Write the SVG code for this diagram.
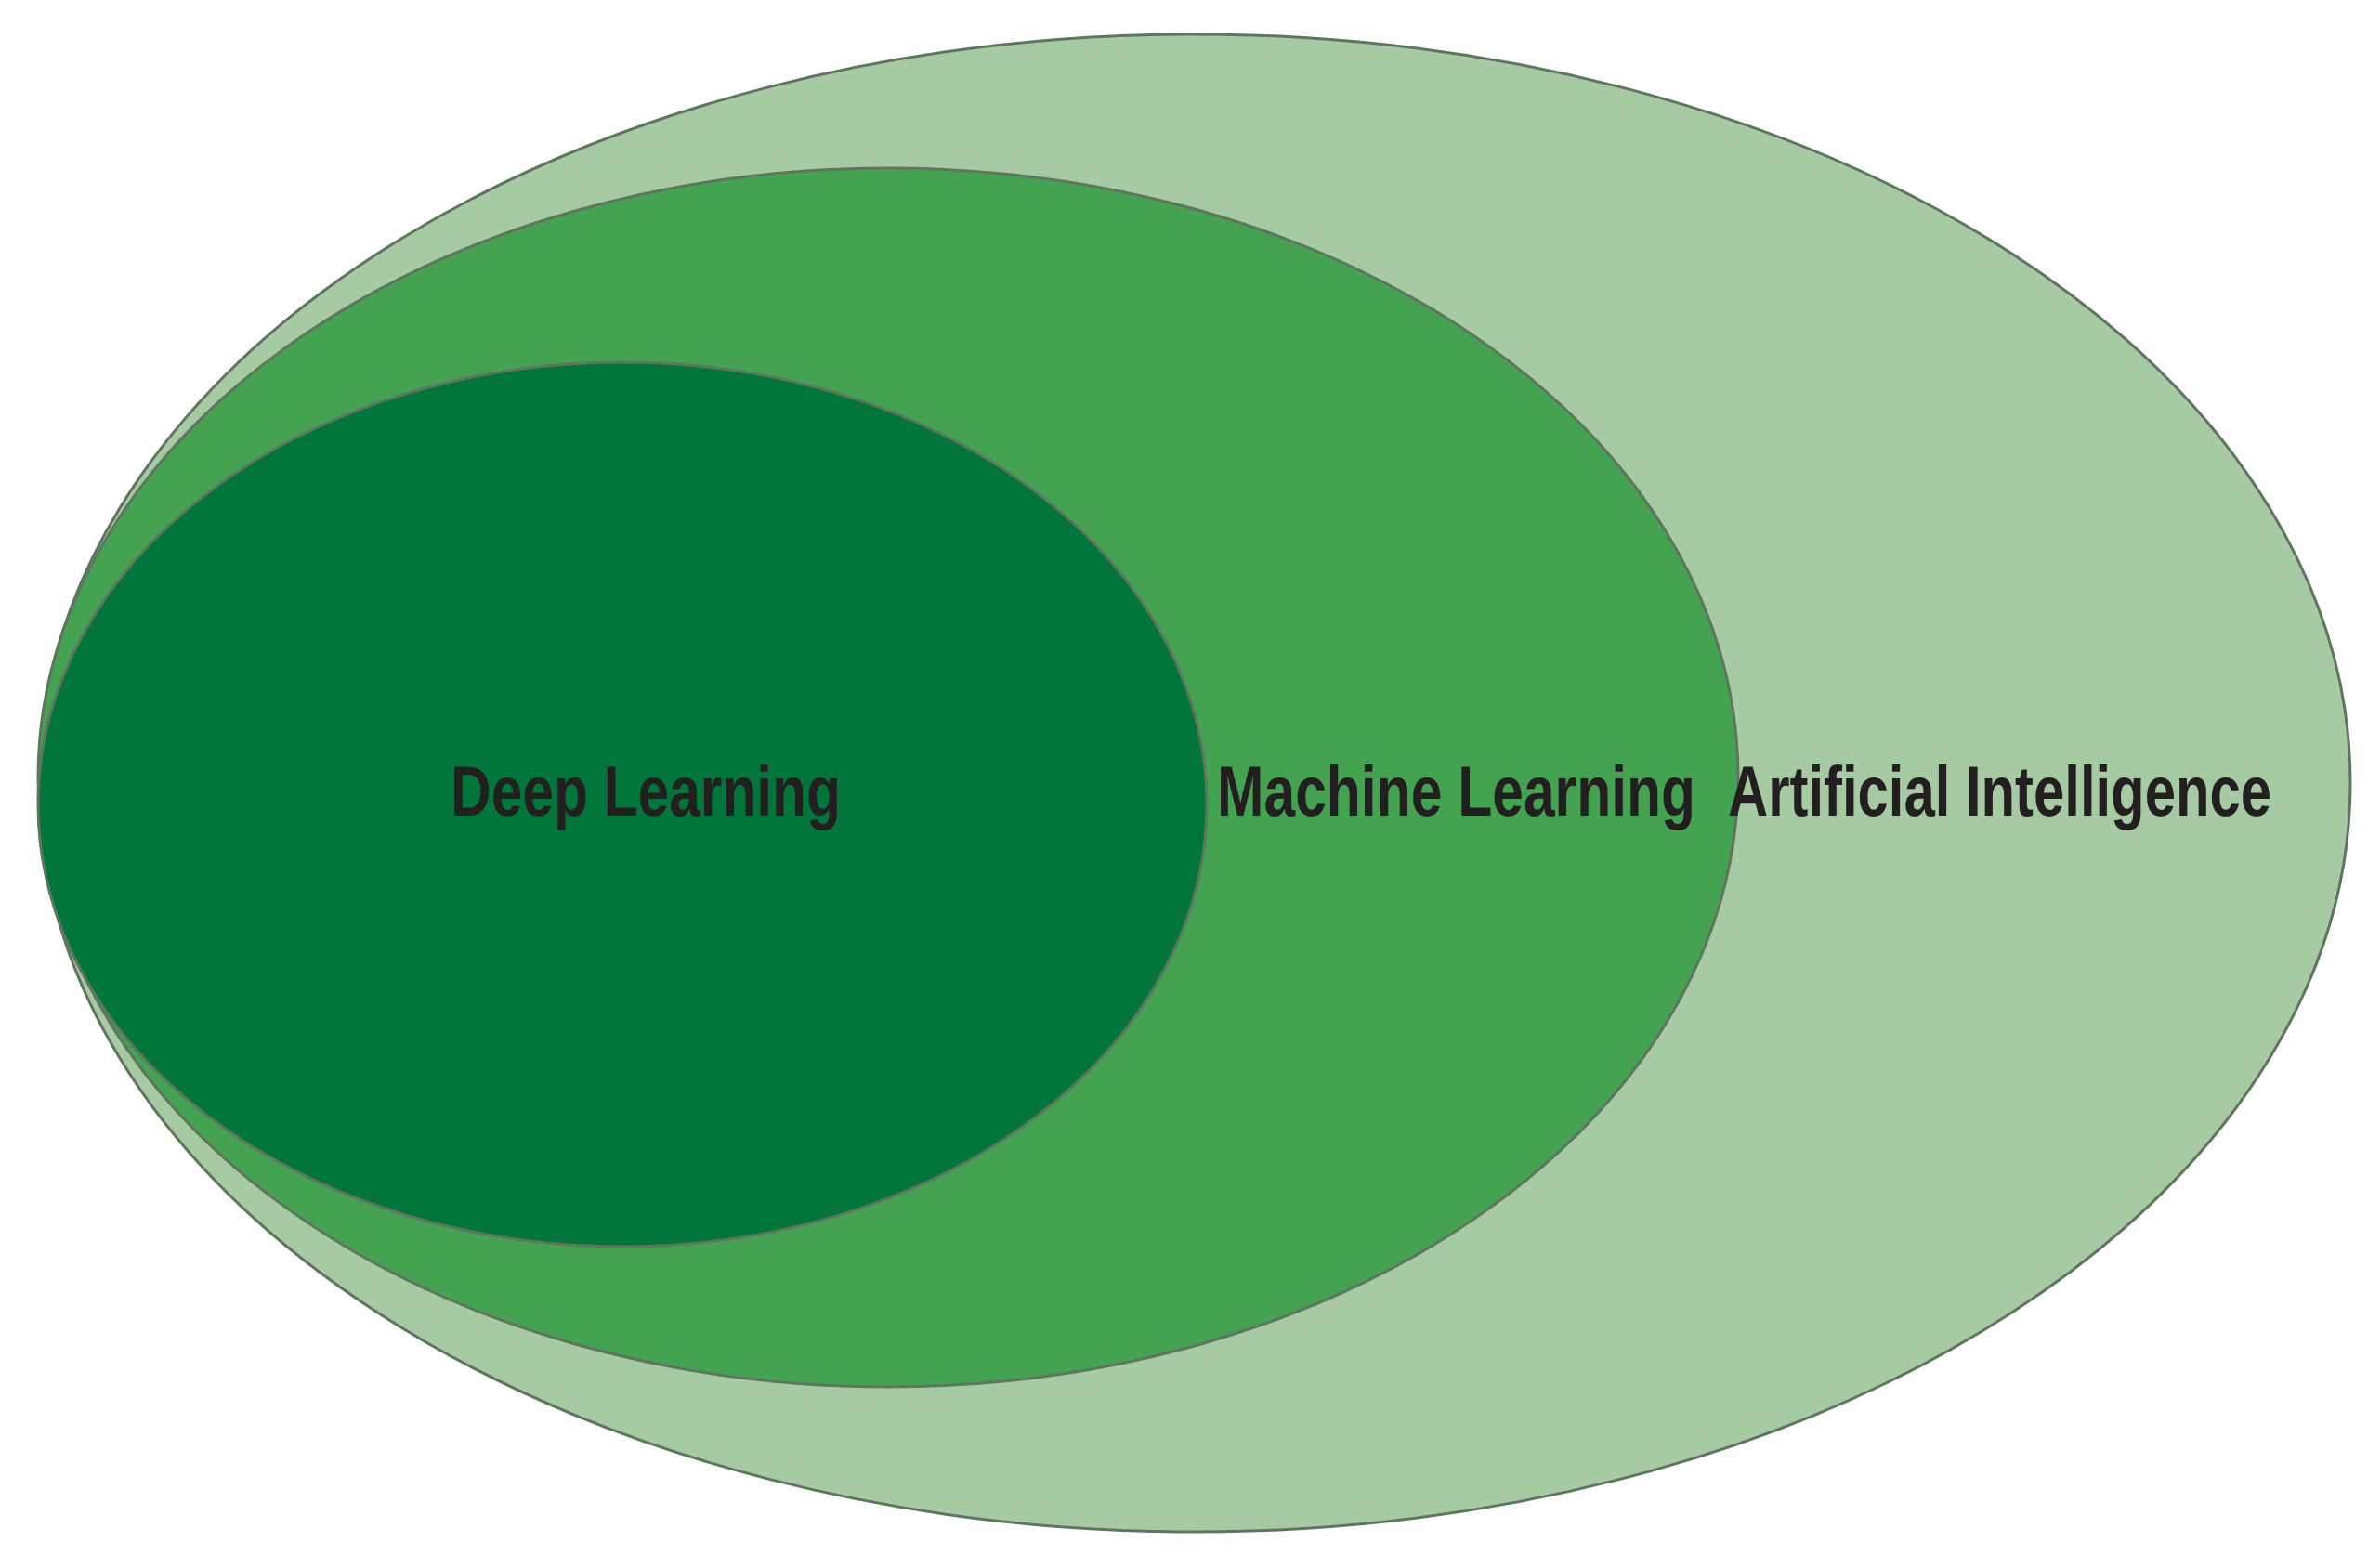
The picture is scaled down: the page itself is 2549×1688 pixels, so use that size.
<svg xmlns="http://www.w3.org/2000/svg" width="2549" height="1688" viewBox="0 0 2549 1688">
<style>
.e{stroke:#5f7560;stroke-width:3}
.t{font-family:"Liberation Sans Narrow","Liberation Sans",Arial,sans-serif;font-size:76px;fill:#231f20;font-weight:bold}
</style>
<rect width="2549" height="1688" fill="#ffffff"/>
<g id="ai"><ellipse class="e" cx="1286" cy="843" rx="1244" ry="806" fill="#a6cba3"/></g>
<g id="ml"><ellipse class="e" cx="956" cy="837" rx="915" ry="656" fill="#43a350"/></g>
<g id="dl"><ellipse class="e" cx="670" cy="866" rx="629" ry="476" fill="#00763a"/></g>
<g id="labels">
<text class="t" x="485" y="878" textLength="420" lengthAdjust="spacingAndGlyphs">Deep Learning</text>
<text class="t" x="1310" y="878" textLength="515" lengthAdjust="spacingAndGlyphs">Machine Learning</text>
<text class="t" x="1860" y="878" textLength="585" lengthAdjust="spacingAndGlyphs">Artificial Intelligence</text>
</g>
<g id="connectors"/>
</svg>
